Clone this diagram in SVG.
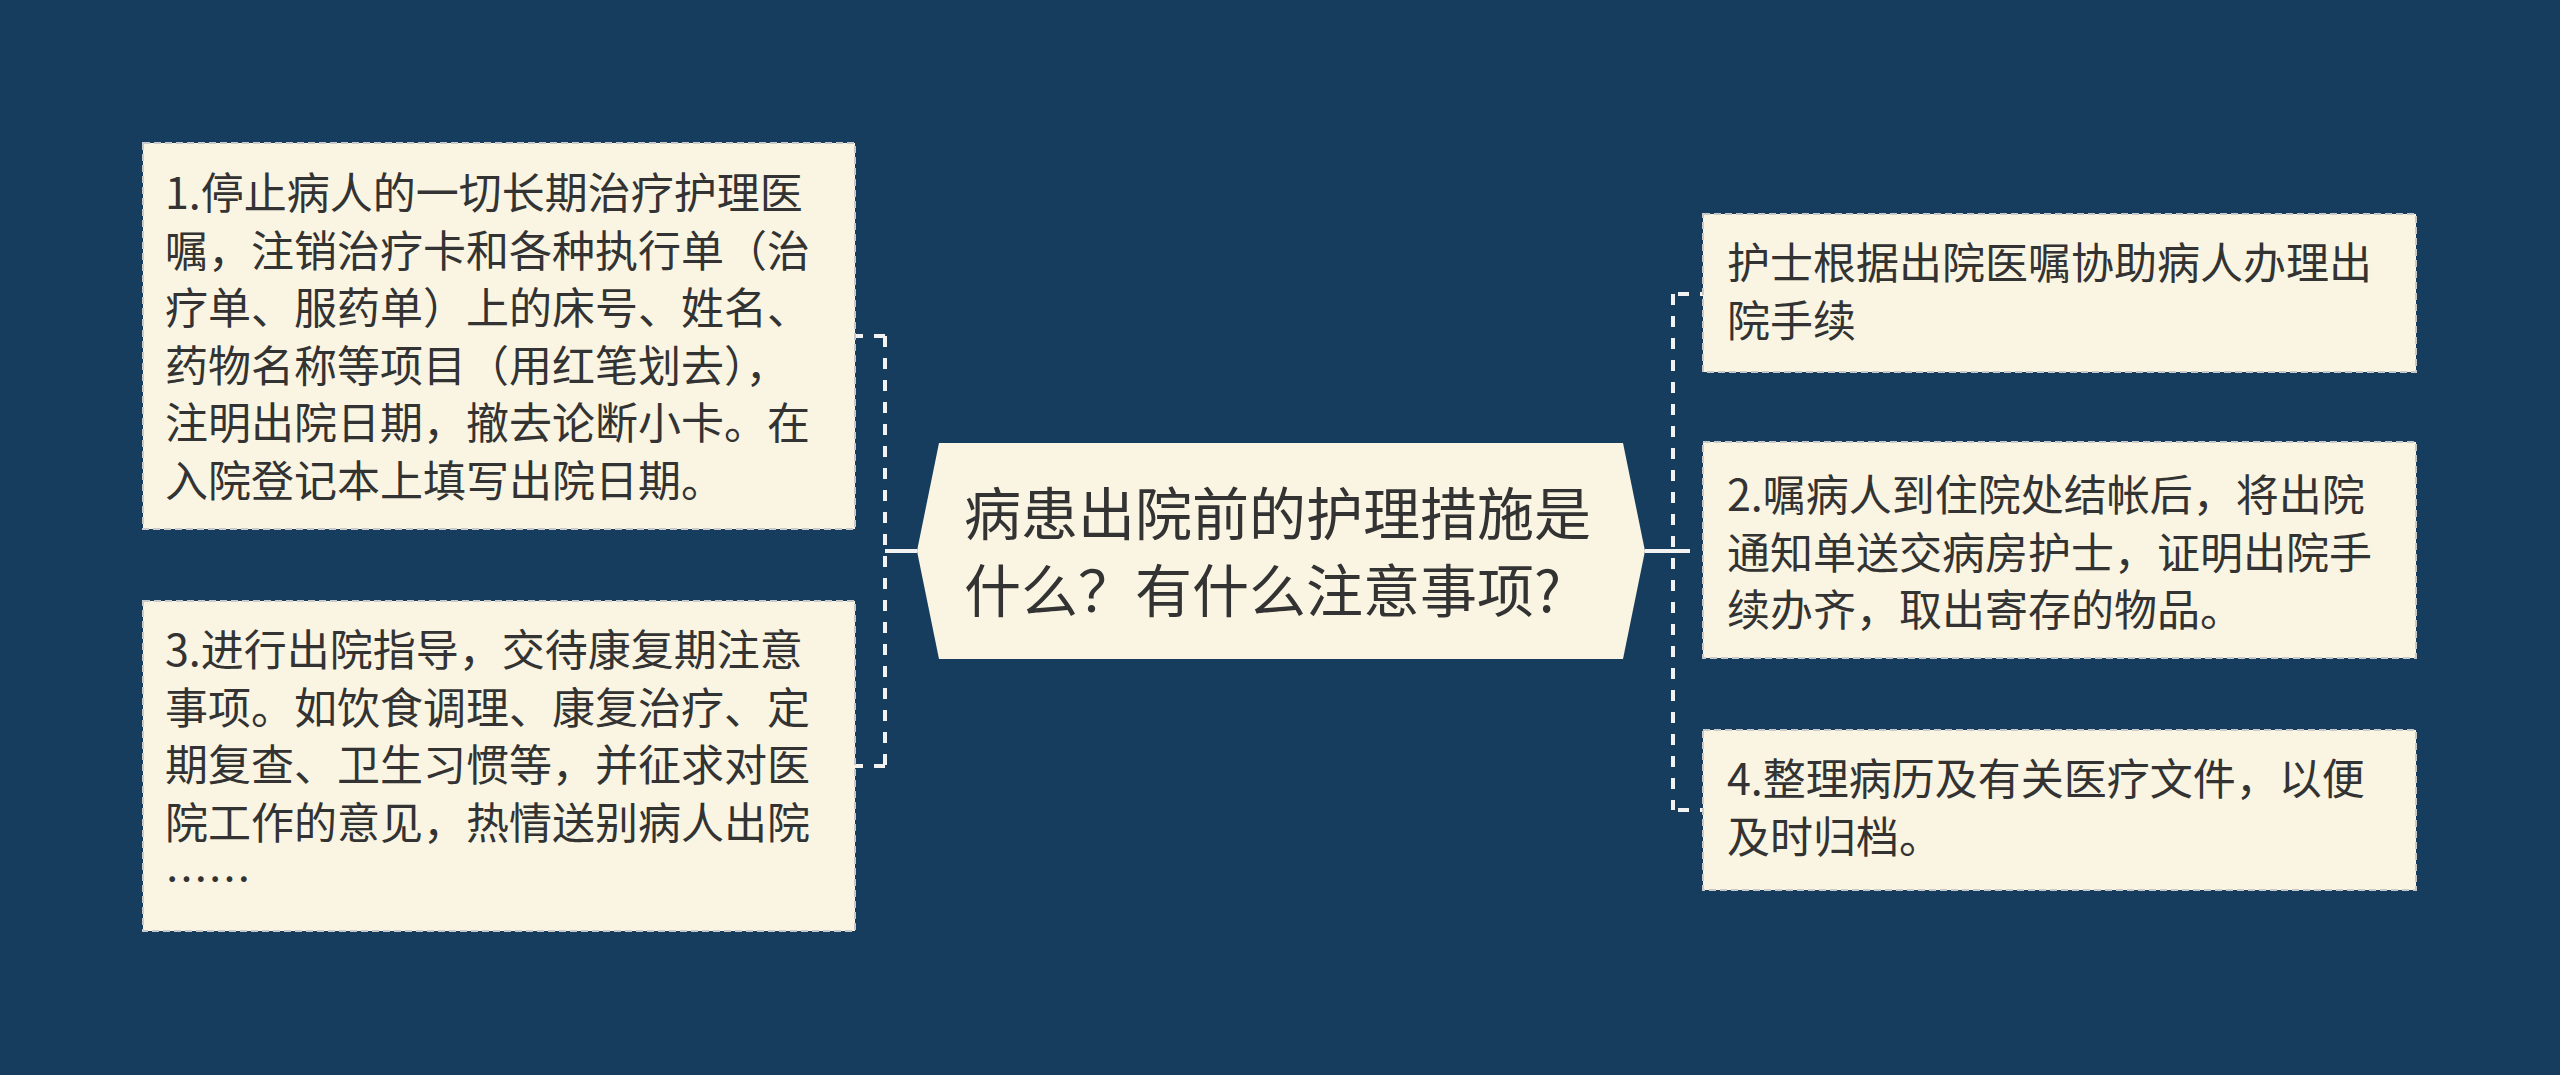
<svg xmlns="http://www.w3.org/2000/svg" width="2560" height="1075" viewBox="0 0 2560 1075">
<style>
.bg{fill:#173d5e}
.box{fill:#faf5e2;stroke:#c9c9c9;stroke-width:2;stroke-dasharray:7 4}
.t{font-family:"Noto Sans CJK SC","Noto Sans",sans-serif;font-size:43px;fill:#333333}
.tc{font-family:"Noto Sans CJK SC","Noto Sans",sans-serif;font-size:57px;fill:#333333}
.dash{fill:none;stroke:#f2f2f2;stroke-width:4;stroke-dasharray:11 11}
.solid{fill:none;stroke:#f2f2f2;stroke-width:4}
</style>
<rect class="bg" x="0" y="0" width="2560" height="1075"/>
<g id="connectors">
<path class="solid" d="M917 551 H885"/>
<path class="dash" d="M885 336 V766"/>
<path class="dash" d="M885 336 H855"/>
<path class="dash" d="M885 766 H855"/>
<path class="solid" d="M1645 551 H1690"/>
<path class="dash" d="M1673 294 V810"/>
<path class="dash" d="M1678 294 H1703"/>
<path class="dash" d="M1678 810 H1703"/>
</g>
<g id="center">
<polygon points="917,551 939,443 1623,443 1645,551 1623,659 939,659" fill="#faf5e2"/>
<text class="tc"><tspan x="964" y="535">病患出院前的护理措施是</tspan><tspan x="964" y="612">什么？有什么注意事项?</tspan></text>
</g>
<g id="node1">
<rect class="box" x="143" y="143" width="712" height="386"/>
<text class="t"><tspan x="165" y="209">1.停止病人的一切长期治疗护理医</tspan><tspan x="165" y="266.5">嘱，注销治疗卡和各种执行单（治</tspan><tspan x="165" y="324">疗单、服药单）上的床号、姓名、</tspan><tspan x="165" y="381.5">药物名称等项目（用红笔划去），</tspan><tspan x="165" y="439">注明出院日期，撤去论断小卡。在</tspan><tspan x="165" y="496.5">入院登记本上填写出院日期。</tspan></text>
</g>
<g id="node3">
<rect class="box" x="143" y="601" width="712" height="330"/>
<text class="t"><tspan x="165" y="666">3.进行出院指导，交待康复期注意</tspan><tspan x="165" y="723.5">事项。如饮食调理、康复治疗、定</tspan><tspan x="165" y="781">期复查、卫生习惯等，并征求对医</tspan><tspan x="165" y="838.5">院工作的意见，热情送别病人出院</tspan><tspan x="165" y="896">……</tspan></text>
</g>
<g id="nodeA">
<rect class="box" x="1703" y="214" width="713" height="158"/>
<text class="t"><tspan x="1727" y="279">护士根据出院医嘱协助病人办理出</tspan><tspan x="1727" y="336.5">院手续</tspan></text>
</g>
<g id="node2">
<rect class="box" x="1703" y="442" width="713" height="216"/>
<text class="t"><tspan x="1727" y="511">2.嘱病人到住院处结帐后，将出院</tspan><tspan x="1727" y="568.5">通知单送交病房护士，证明出院手</tspan><tspan x="1727" y="626">续办齐，取出寄存的物品。</tspan></text>
</g>
<g id="node4">
<rect class="box" x="1703" y="730" width="713" height="160"/>
<text class="t"><tspan x="1727" y="795">4.整理病历及有关医疗文件，以便</tspan><tspan x="1727" y="852.5">及时归档。</tspan></text>
</g>
</svg>
